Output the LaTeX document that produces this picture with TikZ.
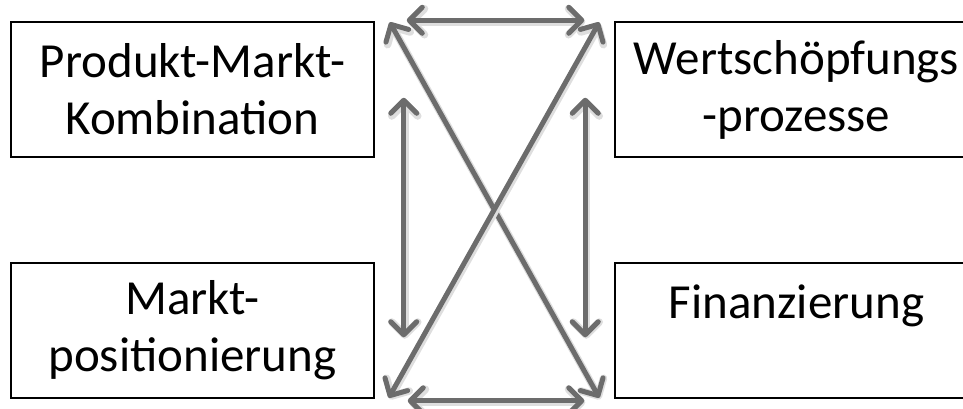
\documentclass[tikz,border=0pt]{standalone}
\usepackage{fontspec}
\setmainfont{Carlito}
\usetikzlibrary{arrows.meta}
\definecolor{linkgray}{RGB}{108,108,108}
\begin{document}
\begin{tikzpicture}[x=1pt,y=-1pt,
  box/.style={draw=black, line width=1.5pt, minimum width=363pt, minimum height=135pt,
    inner sep=0pt, align=center, font=\fontsize{49}{57}\selectfont},
  barb/.tip={Straight Barb[length=13pt,width=26pt,round]},
  link/.style={draw=linkgray, line width=5pt, line cap=round, barb-barb,
    preaction={draw=black!13, line width=7.5pt, transform canvas={shift={(1pt,-1.5pt)}}}}]
\clip (0,0) rectangle (963,408);

% the four building blocks (the right-hand pair runs past the page edge)
\node[box] (pmk) at (192.5,89.5) {Produkt-Markt-\\Kombination};
\node[box] (wsp) at (796.5,89.5) {Wertschöpfungs\\-prozesse};
\node[box] (mp) at (192.5,330.5) {Markt-\\positionierung};
\node[box] (fin) at (796.5,330.5) {Finanzierung\\\mbox{}};

% arrow end points between the blocks
\coordinate (hT1) at ([shift={(32,-1)}]pmk.north east);
\coordinate (hT2) at ([shift={(-30,-1)}]wsp.north west);
\coordinate (hB1) at ([shift={(33,2)}]mp.south east);
\coordinate (hB2) at ([shift={(-30,2)}]fin.south west);
\coordinate (vL1) at ([shift={(29,-60)}]pmk.south east);
\coordinate (vL2) at ([shift={(29,75)}]mp.north east);
\coordinate (vR1) at ([shift={(-29,-60)}]wsp.south west);
\coordinate (vR2) at ([shift={(-29,75)}]fin.north west);
\coordinate (dTL) at ([shift={(15,1)}]pmk.north east);
\coordinate (dBR) at ([shift={(-15,-1)}]fin.south west);
\coordinate (dTR) at ([shift={(-15,1)}]wsp.north west);
\coordinate (dBL) at ([shift={(14,-1)}]mp.south east);

% mutual relations
\draw[link] (hT1) -- (hT2);
\draw[link] (hB1) -- (hB2);
\draw[link] (vL1) -- (vL2);
\draw[link] (vR1) -- (vR2);
\draw[link] (dTL) -- (dBR);
\draw[link] (dTR) -- (dBL);
\end{tikzpicture}
\end{document}
